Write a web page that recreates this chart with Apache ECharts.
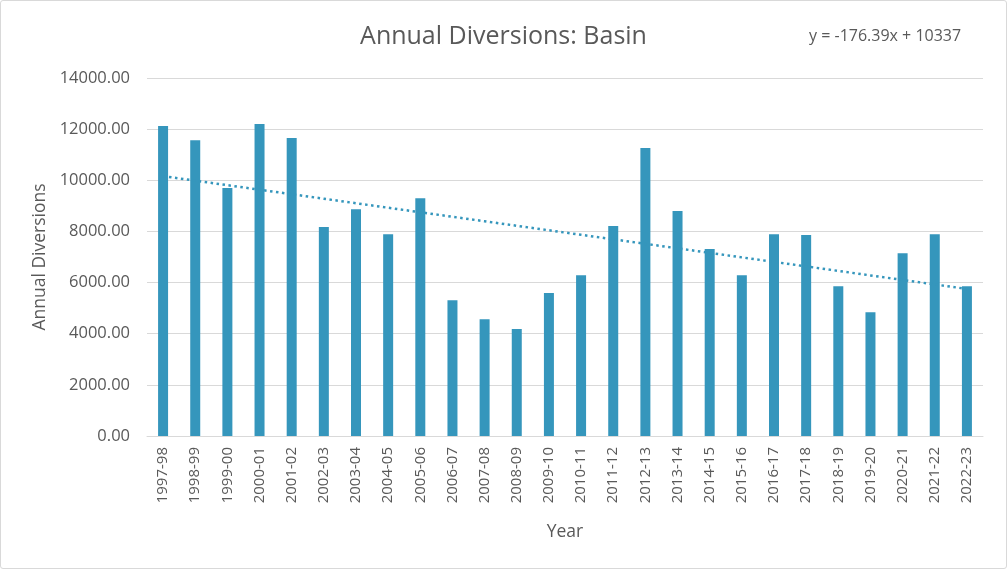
<!DOCTYPE html>
<html>
<head>
<meta charset="utf-8">
<script src="https://cdn.jsdelivr.net/npm/echarts@6/dist/echarts.min.js"></script>
<style>
html,body{margin:0;padding:0;background:#fff;}
#wrap{position:absolute;left:0;top:0;width:1005px;height:567px;border:1px solid #d9d9d9;border-radius:3px;}
#chart{width:1007px;height:569px;position:absolute;left:0;top:0;}
</style>
</head>
<body>
<div id="wrap"></div>
<div id="chart"></div>
<script>
const categories = ["1997-98","1998-99","1999-00","2000-01","2001-02","2002-03","2003-04","2004-05","2005-06","2006-07","2007-08","2008-09","2009-10","2010-11","2011-12","2012-13","2013-14","2014-15","2015-16","2016-17","2017-18","2018-19","2019-20","2020-21","2021-22","2022-23"];
const diversions = [12120,11570,9700,12200,11650,8170,8870,7890,9300,5310,4570,4180,5590,6290,8210,11260,8800,7310,6290,7890,7860,5860,4840,7150,7890,5860];
const trendSlope = -176.39;
const trendIntercept = 10337;
const yTicks = [0,2000,4000,6000,8000,10000,12000,14000];

const trend = categories.map((c,i)=> +(trendSlope*(i+1)+trendIntercept).toFixed(2));
const font = '"Open Sans", sans-serif';
const chart = echarts.init(document.getElementById('chart'));
chart.setOption({
  backgroundColor: 'transparent',
  animation: false,
  title: [{
    text: 'Annual Diversions: Basin',
    left: 'center', top: 19,
    textStyle: {fontFamily: font, fontSize: 25, fontWeight: 'normal', color: '#595959'}
  },{
    text: 'y = -176.39x + 10337',
    left: 804, top: 23,
    textStyle: {fontFamily: font, fontSize: 16, fontWeight: 'normal', color: '#595959'}
  }],
  grid: {left: 147, right: 24, top: 78, bottom: 133},
  xAxis: {
    type: 'category', data: categories,
    name: 'Year', nameLocation: 'middle', nameGap: 87,
    nameTextStyle: {fontFamily: font, fontSize: 17.5, color: '#595959'},
    axisLine: {lineStyle: {color: '#d9d9d9'}},
    axisTick: {show: false},
    axisLabel: {rotate: 90, fontFamily: font, fontSize: 15, color: '#595959', margin: 11, interval: 0}
  },
  yAxis: {
    type: 'value', min: yTicks[0], max: yTicks[yTicks.length-1], interval: 2000,
    name: 'Annual Diversions', nameLocation: 'middle', nameGap: 97,
    nameTextStyle: {fontFamily: font, fontSize: 17.5, color: '#595959'},
    axisLine: {show: false}, axisTick: {show: false},
    splitLine: {lineStyle: {color: '#d9d9d9', width: 1}},
    axisLabel: {fontFamily: font, fontSize: 16.5, color: '#595959', margin: 17, formatter: v => v.toFixed(2)}
  },
  series: [{
    type: 'bar', data: diversions, barWidth: 10,
    itemStyle: {color: '#3596bc'}
  },{
    type: 'line', data: trend, symbol: 'none',
    lineStyle: {color: '#3596bc', width: 2.5, type: [2.5, 3.5]}
  }]
});
</script>
</body>
</html>
